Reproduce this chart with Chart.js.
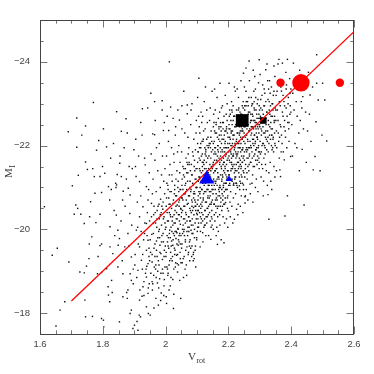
<!DOCTYPE html>
<html>
<head>
<meta charset="utf-8">
<script src="https://cdn.jsdelivr.net/npm/chart.js@4.4.1/dist/chart.umd.min.js"></script>
<style>
  html, body { margin: 0; padding: 0; background: #fff; }
  canvas { display: block; }
</style>
</head>
<body>
<canvas id="tf" width="374" height="374"></canvas>
<script>
// field galaxies: [log Vrot, M_I] (outer cloud)
const galaxies = [
  [1.614,-20.54],[1.639,-19.38],[1.651,-17.69],
  [1.655,-19.55],[1.664,-18.07],[1.679,-18.27],[1.690,-22.33],[1.692,-19.22],
  [1.703,-21.04],[1.709,-20.36],[1.714,-20.58],[1.717,-22.66],[1.717,-21.96],[1.720,-20.50],[1.722,-21.29],[1.727,-18.98],
  [1.730,-20.36],[1.733,-22.25],[1.741,-20.14],[1.741,-18.96],[1.743,-18.31],[1.745,-22.47],[1.745,-21.61],[1.745,-17.91],[1.748,-19.12],
  [1.751,-21.43],[1.756,-19.30],[1.757,-19.65],[1.761,-20.66],[1.765,-19.82],[1.767,-17.92],[1.768,-21.45],[1.770,-23.03],
  [1.773,-21.26],[1.775,-20.86],[1.778,-20.16],[1.780,-21.89],[1.783,-18.94],[1.787,-22.12],[1.791,-21.26],[1.791,-20.36],
  [1.791,-19.61],[1.796,-20.88],[1.796,-19.65],[1.796,-18.97],[1.796,-17.87],[1.799,-21.50],[1.758,-20.30],[1.785,-19.35],
  [1.802,-22.40],[1.802,-17.83],[1.803,-17.67],[1.806,-21.34],[1.812,-21.97],[1.812,-19.06],[1.817,-18.63],[1.818,-21.02],
  [1.818,-18.43],[1.822,-20.70],[1.822,-18.27],[1.823,-20.06],[1.823,-19.58],[1.825,-21.70],[1.828,-18.78],[1.830,-18.49],
  [1.832,-19.42],[1.836,-20.45],[1.841,-21.10],[1.842,-21.00],[1.843,-20.34],[1.844,-22.81],[1.844,-21.06],[1.846,-21.31],
  [1.848,-19.98],[1.848,-19.10],[1.849,-19.62],[1.838,-19.85],[1.827,-20.95],[1.834,-22.05],
  [1.853,-19.78],[1.853,-17.79],[1.854,-21.58],[1.855,-21.75],[1.859,-22.34],[1.859,-21.26],[1.863,-20.70],[1.864,-18.94],
  [1.864,-18.39],[1.865,-20.91],[1.871,-20.55],[1.870,-19.58],[1.874,-22.64],[1.876,-18.49],[1.878,-18.35],[1.880,-19.90],
  [1.880,-18.55],[1.881,-20.98],[1.884,-21.50],[1.886,-20.38],[1.887,-20.82],[1.887,-18.94],[1.887,-17.99],[1.891,-19.34],
  [1.891,-18.78],[1.891,-18.07],[1.894,-21.45],[1.897,-18.70],[1.896,-17.63],[1.899,-21.90],[1.858,-20.20],[1.868,-21.95],
  [1.878,-22.30],[1.862,-19.25],[1.883,-19.60],[1.892,-20.10],[1.897,-19.05],[1.875,-21.20],
  [1.901,-17.71],[1.904,-21.50],[1.906,-21.26],[1.907,-19.98],[1.909,-17.80],[1.912,-19.02],[1.912,-17.59],[1.914,-21.75],
  [1.916,-17.95],[1.917,-21.14],[1.917,-20.30],[1.917,-19.58],[1.917,-18.31],[1.920,-17.91],[1.923,-19.26],[1.925,-22.25],
  [1.926,-22.88],[1.928,-20.54],[1.928,-18.63],[1.930,-19.75],[1.933,-21.70],[1.933,-19.90],[1.935,-21.54],[1.936,-18.95],
  [1.939,-21.02],[1.939,-20.14],[1.939,-19.50],[1.939,-18.86],[1.939,-18.15],[1.940,-19.12],[1.942,-20.40],[1.944,-20.70],
  [1.944,-19.74],[1.944,-19.18],[1.944,-18.47],[1.945,-17.99],[1.946,-20.95],[1.947,-19.35],[1.948,-18.70],[1.921,-20.80],
  [1.910,-20.65],[1.903,-19.40],[1.931,-18.42],[1.926,-19.05],[1.949,-20.20],[1.905,-22.15],[1.948,-21.35],[1.921,-22.55],
  [1.943,-22.90],
  [1.951,-17.95],[1.953,-23.25],[1.955,-20.62],[1.956,-19.88],[1.957,-19.22],[1.958,-18.55],[1.959,-22.28],[1.960,-21.20],
  [1.961,-20.15],[1.962,-18.90],[1.963,-19.55],[1.965,-23.05],[1.965,-22.26],[1.966,-21.65],[1.967,-20.40],[1.968,-19.05],
  [1.969,-18.35],[1.970,-20.90],[1.971,-19.72],[1.972,-20.05],[1.973,-19.35],[1.974,-18.72],[1.975,-21.40],[1.976,-20.55],
  [1.977,-18.19],[1.978,-19.95],[1.979,-19.15],[1.980,-22.05],[1.980,-20.25],[1.981,-18.82],[1.982,-19.62],[1.983,-21.00],
  [1.984,-20.72],[1.985,-19.42],[1.986,-18.48],[1.987,-20.10],[1.988,-19.85],[1.989,-23.07],[1.989,-22.85],[1.990,-21.75],
  [1.990,-19.28],[1.991,-20.48],[1.992,-18.95],[1.993,-22.36],[1.993,-19.70],[1.994,-21.15],[1.995,-20.30],[1.995,-18.65],
  [1.996,-19.50],[1.997,-20.85],[1.998,-19.10],[1.998,-21.45],[1.999,-20.00],[1.952,-19.45],[1.954,-21.80],[1.958,-20.85],
  [1.963,-18.12],[1.967,-22.60],[1.971,-21.95],[1.975,-19.00],[1.979,-20.60],[1.984,-18.30],[1.987,-21.30],[1.992,-20.65],
  [1.996,-22.55],[1.957,-18.75],[1.962,-20.35],[1.966,-19.35],[1.973,-20.25],[1.981,-19.80],[1.986,-20.40],[1.994,-18.42],
  [2.001,-19.35],[2.002,-20.55],[2.002,-18.39],[2.003,-18.23],[2.004,-21.10],[2.005,-19.85],[2.006,-20.20],[2.007,-18.90],
  [2.008,-19.60],[2.009,-22.10],[2.010,-22.36],[2.010,-20.75],[2.011,-19.15],[2.012,-24.00],[2.012,-20.40],[2.013,-19.98],
  [2.014,-21.55],[2.015,-18.65],[2.016,-22.92],[2.016,-19.45],[2.017,-20.05],[2.018,-20.90],[2.019,-19.72],[2.020,-21.30],
  [2.021,-19.25],[2.022,-20.30],[2.023,-18.80],[2.024,-20.62],[2.025,-18.11],[2.025,-19.90],[2.026,-21.80],[2.027,-20.15],
  [2.028,-19.55],[2.029,-21.05],[2.030,-20.45],[2.031,-19.10],[2.032,-22.45],[2.032,-20.80],[2.033,-19.78],[2.034,-20.25],
  [2.035,-19.38],[2.036,-21.40],[2.037,-20.58],[2.038,-18.98],[2.039,-20.02],[2.040,-21.15],[2.040,-19.62],[2.041,-20.35],
  [2.042,-22.00],[2.043,-19.85],[2.044,-22.61],[2.044,-20.70],[2.045,-18.78],[2.046,-19.45],[2.046,-21.60],[2.047,-20.12],
  [2.048,-20.95],[2.049,-19.20],[2.049,-20.48],[2.003,-21.75],[2.006,-19.05],[2.008,-20.95],[2.011,-18.55],[2.014,-20.60],
  [2.017,-19.30],[2.019,-21.95],[2.021,-20.20],[2.023,-19.62],[2.026,-18.45],[2.028,-20.85],[2.030,-19.95],[2.033,-21.20],
  [2.035,-20.40],[2.037,-19.18],[2.039,-22.85],[2.041,-19.75],[2.043,-20.55],[2.045,-21.35],[2.047,-19.65],[2.048,-18.35],
  [2.005,-22.70],[2.027,-21.60],[2.012,-21.30],[2.038,-21.85],[2.031,-22.25],[2.024,-22.65],[2.009,-19.80],[2.042,-20.90],
  [2.036,-19.92],[2.015,-20.35],[2.029,-19.40],[2.044,-20.20],
  [2.050,-20.30],[2.051,-19.55],[2.052,-22.95],[2.052,-21.05],[2.053,-20.75],[2.054,-19.90],[2.055,-21.50],[2.056,-20.10],
  [2.057,-18.85],[2.058,-20.55],[2.059,-19.35],[2.060,-21.25],[2.061,-22.30],[2.062,-20.85],[2.063,-19.70],[2.064,-20.40],
  [2.065,-21.70],[2.066,-19.15],[2.067,-20.95],[2.068,-20.20],[2.069,-22.97],[2.069,-22.76],[2.070,-19.85],[2.071,-21.35],
  [2.072,-20.62],[2.073,-19.45],[2.074,-21.95],[2.075,-20.05],[2.076,-20.80],[2.077,-19.25],[2.078,-21.15],[2.079,-20.45],
  [2.080,-22.50],[2.081,-19.98],[2.082,-21.55],[2.083,-20.70],[2.084,-23.00],[2.084,-19.60],[2.085,-20.25],[2.086,-21.85],
  [2.087,-21.05],[2.088,-19.40],[2.089,-20.52],[2.090,-22.15],[2.091,-20.90],[2.092,-19.80],[2.093,-21.40],[2.094,-20.15],
  [2.095,-20.65],[2.096,-19.10],[2.097,-21.20],[2.098,-22.60],[2.099,-20.38],[2.051,-21.85],[2.053,-19.20],[2.055,-20.95],
  [2.057,-21.30],[2.059,-20.00],[2.062,-19.05],[2.064,-21.10],[2.066,-20.70],[2.068,-19.58],[2.071,-22.20],[2.073,-20.30],
  [2.075,-21.60],[2.078,-19.75],[2.080,-20.90],[2.082,-20.10],[2.085,-21.30],[2.087,-19.90],[2.089,-20.75],[2.092,-21.65],
  [2.094,-19.50],[2.096,-20.55],[2.098,-21.00],[2.052,-22.40],[2.058,-23.30],[2.063,-21.45],[2.067,-18.90],[2.072,-21.80],
  [2.076,-19.60],[2.081,-22.85],[2.086,-20.45],[2.091,-19.30],[2.095,-21.90],[2.099,-19.75],[2.054,-20.45],[2.061,-20.25],
  [2.070,-21.55],[2.077,-20.20],[2.083,-19.35],[2.088,-21.75],[2.093,-20.85],[2.097,-22.30],
  [2.100,-21.45],[2.101,-20.60],[2.102,-22.05],[2.103,-20.25],[2.104,-21.15],[2.105,-22.70],[2.106,-23.61],[2.106,-20.90],
  [2.107,-21.70],[2.108,-20.40],[2.109,-22.30],[2.110,-19.58],[2.110,-21.00],[2.111,-20.75],[2.112,-21.95],[2.113,-20.15],
  [2.114,-21.35],[2.115,-22.55],[2.116,-20.55],[2.117,-21.80],[2.118,-19.92],[2.118,-21.10],[2.119,-20.35],[2.120,-22.15],
  [2.121,-20.85],[2.122,-21.55],[2.123,-23.05],[2.124,-20.10],[2.125,-21.25],[2.126,-22.40],[2.127,-20.65],[2.128,-21.90],
  [2.129,-20.30],[2.130,-21.60],[2.131,-22.85],[2.132,-20.95],[2.133,-21.40],[2.134,-20.50],[2.135,-22.20],[2.136,-21.05],
  [2.137,-19.85],[2.138,-21.75],[2.139,-20.75],[2.140,-22.60],[2.141,-21.30],[2.142,-20.20],[2.143,-21.95],[2.144,-19.76],
  [2.144,-20.90],[2.145,-22.35],[2.146,-21.50],[2.147,-20.45],[2.148,-23.30],[2.149,-21.15],[2.101,-19.95],[2.103,-21.85],
  [2.105,-20.05],[2.107,-22.45],[2.109,-21.25],[2.111,-20.30],[2.113,-22.80],[2.115,-20.95],[2.117,-21.60],[2.119,-19.70],
  [2.121,-22.35],[2.123,-21.05],[2.125,-20.45],[2.127,-23.40],[2.129,-21.75],[2.131,-20.15],[2.133,-22.55],[2.135,-20.80],
  [2.137,-21.45],[2.139,-22.05],[2.141,-20.60],[2.143,-21.20],[2.145,-20.05],[2.147,-22.10],[2.149,-20.70],[2.102,-23.15],
  [2.104,-20.80],[2.108,-21.45],[2.112,-20.50],[2.116,-22.10],[2.120,-20.70],[2.124,-21.45],[2.128,-20.90],[2.132,-22.00],
  [2.136,-20.35],[2.140,-21.15],[2.144,-21.70],[2.148,-20.25],[2.103,-20.45],[2.110,-21.65],[2.118,-22.70],[2.126,-21.80],
  [2.142,-22.90],[2.146,-20.65],
  [2.150,-21.90],[2.151,-20.95],[2.152,-22.45],[2.153,-21.35],[2.154,-20.60],[2.155,-22.10],[2.156,-21.65],[2.157,-20.20],
  [2.158,-22.85],[2.159,-21.10],[2.160,-21.80],[2.161,-20.85],[2.162,-22.30],[2.163,-21.45],[2.164,-23.15],[2.165,-19.64],
  [2.165,-20.50],[2.166,-22.00],[2.167,-21.25],[2.168,-22.65],[2.169,-20.95],[2.170,-21.70],[2.171,-22.25],[2.172,-20.35],
  [2.173,-23.49],[2.173,-21.05],[2.174,-21.95],[2.175,-22.55],[2.176,-20.75],[2.177,-21.50],[2.178,-22.90],[2.179,-21.20],
  [2.180,-22.15],[2.181,-20.55],[2.182,-21.85],[2.183,-22.40],[2.184,-21.00],[2.185,-21.60],[2.186,-19.68],[2.186,-22.70],
  [2.187,-20.90],[2.188,-21.35],[2.189,-22.05],[2.190,-23.20],[2.191,-20.64],[2.191,-21.75],[2.192,-22.35],[2.193,-21.10],
  [2.194,-20.25],[2.195,-21.95],[2.196,-22.60],[2.197,-21.40],[2.198,-20.80],[2.199,-22.20],[2.151,-21.55],[2.153,-22.75],
  [2.155,-20.35],[2.157,-21.95],[2.159,-20.70],[2.161,-22.55],[2.163,-20.05],[2.165,-21.75],[2.167,-20.80],[2.169,-22.15],
  [2.171,-21.00],[2.173,-20.10],[2.175,-21.30],[2.177,-22.35],[2.179,-20.45],[2.181,-22.95],[2.183,-21.55],[2.185,-20.60],
  [2.187,-22.25],[2.189,-21.50],[2.191,-20.95],[2.193,-22.75],[2.195,-21.20],[2.197,-20.50],[2.199,-21.70],[2.152,-20.00],
  [2.156,-23.35],[2.160,-20.40],[2.164,-21.20],[2.168,-19.95],[2.172,-22.80],[2.176,-21.85],[2.180,-20.85],[2.184,-22.55],
  [2.188,-20.15],[2.192,-21.30],[2.196,-23.00],[2.154,-21.15],[2.158,-21.40],[2.162,-21.60],[2.166,-20.30],[2.170,-22.45],
  [2.174,-20.55],[2.178,-21.65],[2.182,-21.25],[2.186,-21.95],[2.190,-20.75],[2.194,-22.40],[2.198,-20.05],[2.161,-19.85],
  [2.177,-19.75],[2.183,-20.30],
  [2.200,-20.44],[2.201,-21.85],[2.202,-23.49],[2.202,-22.40],[2.203,-21.30],[2.204,-22.85],[2.205,-21.60],[2.206,-22.15],
  [2.207,-20.90],[2.208,-22.60],[2.209,-21.45],[2.210,-23.05],[2.211,-22.00],[2.212,-21.15],[2.213,-22.35],[2.214,-21.75],
  [2.215,-22.95],[2.216,-20.75],[2.217,-22.25],[2.218,-21.55],[2.219,-20.24],[2.219,-22.70],[2.220,-21.95],[2.221,-21.25],
  [2.222,-23.30],[2.223,-22.50],[2.224,-21.70],[2.225,-22.10],[2.226,-20.48],[2.226,-22.85],[2.227,-21.40],[2.228,-22.30],
  [2.229,-21.00],[2.230,-22.65],[2.231,-21.85],[2.232,-23.15],[2.233,-22.05],[2.234,-21.50],[2.235,-22.45],[2.236,-20.95],
  [2.237,-22.80],[2.238,-21.65],[2.239,-22.20],[2.240,-23.55],[2.241,-21.30],[2.242,-22.55],[2.243,-21.90],[2.244,-22.95],
  [2.245,-21.10],[2.246,-22.35],[2.247,-21.70],[2.248,-23.73],[2.249,-22.10],[2.201,-21.05],[2.203,-22.70],[2.205,-20.65],
  [2.207,-21.90],[2.209,-22.30],[2.211,-20.55],[2.213,-21.45],[2.215,-22.15],[2.217,-21.05],[2.219,-23.40],[2.221,-22.05],
  [2.223,-20.85],[2.225,-21.55],[2.227,-22.60],[2.229,-21.80],[2.231,-20.60],[2.233,-22.90],[2.235,-21.25],[2.237,-21.95],
  [2.239,-22.75],[2.241,-20.80],[2.243,-22.35],[2.245,-21.60],[2.247,-23.05],[2.249,-21.35],[2.204,-22.05],[2.208,-21.20],
  [2.212,-22.80],[2.216,-21.80],[2.220,-22.45],[2.224,-21.10],[2.228,-23.35],[2.232,-21.60],[2.236,-22.30],[2.240,-21.45],
  [2.244,-22.15],[2.248,-20.95],[2.206,-20.30],[2.214,-20.15],[2.230,-20.35],[2.238,-20.55],[2.246,-20.40],[2.210,-21.70],
  [2.222,-21.40],[2.234,-22.70],[2.242,-21.75],[2.216,-21.06],[2.226,-21.10],[2.235,-21.04],
  [2.250,-22.45],[2.251,-21.85],[2.252,-22.95],[2.253,-20.63],[2.254,-20.80],[2.254,-22.20],[2.255,-21.55],[2.256,-23.30],
  [2.257,-22.65],[2.258,-21.95],[2.259,-22.40],[2.260,-21.20],[2.261,-23.05],[2.262,-22.10],[2.263,-21.70],[2.264,-22.80],
  [2.265,-21.40],[2.266,-22.35],[2.267,-23.55],[2.268,-21.95],[2.269,-21.08],[2.270,-22.55],[2.271,-22.00],[2.272,-21.60],
  [2.273,-23.15],[2.274,-22.30],[2.275,-21.85],[2.276,-22.75],[2.277,-21.30],[2.278,-22.45],[2.279,-23.80],[2.280,-22.15],
  [2.281,-21.75],[2.282,-22.90],[2.283,-21.50],[2.284,-22.60],[2.285,-22.05],[2.286,-23.35],[2.287,-21.90],[2.288,-22.40],
  [2.289,-21.20],[2.290,-22.75],[2.291,-22.20],[2.292,-23.00],[2.293,-21.65],[2.294,-22.50],[2.295,-21.95],[2.296,-23.50],
  [2.297,-22.30],[2.298,-21.45],[2.299,-22.85],[2.251,-23.40],[2.255,-22.55],[2.259,-21.35],[2.263,-22.95],[2.267,-21.75],
  [2.271,-22.75],[2.275,-21.10],[2.279,-22.60],[2.283,-22.25],[2.287,-23.15],[2.291,-21.55],[2.295,-22.65],[2.299,-21.85],
  [2.252,-21.25],[2.257,-20.95],[2.262,-20.70],[2.270,-20.85],[2.278,-20.65],[2.286,-21.00],[2.294,-20.90],[2.256,-23.85],
  [2.266,-24.02],[2.284,-23.65],[2.298,-24.05],[2.273,-22.45],[2.281,-23.30],[2.289,-22.55],[2.297,-21.70],[2.261,-21.90],
  [2.277,-23.00],[2.293,-22.15],[2.248,-21.06],[2.253,-20.78],
  [2.300,-22.45],[2.302,-21.80],[2.303,-23.10],[2.305,-22.25],[2.306,-21.55],[2.308,-22.85],[2.309,-23.45],[2.311,-20.80],
  [2.311,-22.05],[2.313,-21.70],[2.314,-22.60],[2.316,-23.25],[2.317,-21.95],[2.319,-23.81],[2.319,-22.35],[2.321,-21.40],
  [2.322,-22.80],[2.324,-22.10],[2.325,-23.55],[2.326,-20.83],[2.327,-21.85],[2.328,-22.50],[2.329,-20.24],[2.330,-23.05],
  [2.331,-22.25],[2.333,-21.60],[2.334,-22.95],[2.336,-22.40],[2.337,-23.40],[2.339,-21.90],[2.340,-22.70],[2.342,-22.15],
  [2.343,-23.20],[2.345,-21.50],[2.346,-22.55],[2.348,-23.65],[2.349,-22.00],[2.301,-23.70],[2.304,-21.25],[2.307,-22.00],
  [2.310,-22.45],[2.312,-21.15],[2.315,-22.95],[2.318,-21.55],[2.320,-22.65],[2.323,-23.95],[2.326,-22.20],[2.329,-21.35],
  [2.332,-22.75],[2.335,-21.15],[2.338,-22.25],[2.341,-23.00],[2.344,-21.85],[2.347,-22.30],[2.302,-22.70],[2.309,-21.45],
  [2.316,-22.30],[2.324,-21.05],[2.331,-23.55],[2.338,-20.95],[2.345,-23.90],[2.348,-21.25],
  [2.351,-22.60],[2.352,-23.20],[2.354,-21.95],[2.356,-22.85],[2.357,-23.55],[2.359,-22.30],[2.361,-24.06],[2.362,-21.70],
  [2.364,-21.42],[2.365,-22.95],[2.366,-21.26],[2.367,-22.45],[2.369,-23.30],[2.371,-22.05],[2.372,-23.97],[2.374,-22.70],
  [2.375,-21.85],[2.377,-23.05],[2.378,-21.66],[2.380,-20.32],[2.381,-22.35],[2.383,-23.75],[2.384,-22.90],[2.386,-21.95],
  [2.388,-24.06],[2.388,-20.80],[2.389,-22.55],[2.391,-23.15],[2.393,-22.10],[2.395,-23.60],[2.396,-22.75],[2.398,-21.74],
  [2.399,-23.35],[2.353,-21.40],[2.358,-23.95],[2.363,-22.20],[2.368,-21.85],[2.379,-22.60],[2.385,-23.45],[2.392,-22.40],
  [2.397,-22.95],
  [2.402,-22.50],[2.405,-23.25],[2.407,-23.97],[2.409,-22.85],[2.412,-22.05],[2.414,-23.60],[2.418,-21.95],[2.419,-22.70],
  [2.421,-23.35],[2.424,-22.30],[2.427,-23.80],[2.429,-22.60],[2.432,-23.05],[2.435,-21.91],[2.437,-23.17],[2.439,-22.40],
  [2.441,-20.58],[2.443,-23.65],[2.446,-22.80],[2.448,-21.60],[2.404,-21.75],[2.416,-23.05],[2.426,-21.40],[2.434,-22.90],
  [2.452,-22.35],[2.455,-23.75],[2.460,-23.21],[2.463,-22.10],[2.468,-23.40],[2.470,-21.42],[2.476,-21.74],[2.479,-22.57],
  [2.481,-24.17],[2.481,-23.49],[2.486,-23.09],[2.492,-21.40],[2.498,-22.25],[2.458,-22.75],
  [2.500,-23.49],[2.507,-23.09],[2.513,-22.11]
];

// field galaxies in the dense ridge of the cloud
const galaxiesCore = [
  [1.902,-19.15],[1.908,-18.85],[1.913,-19.65],[1.918,-18.55],[1.922,-19.95],[1.927,-19.40],[1.931,-18.75],[1.934,-20.15],
  [1.938,-19.05],[1.941,-19.85],[1.945,-18.60],[1.947,-19.55],[1.911,-20.05],[1.925,-18.40],[1.949,-19.25],
  [1.951,-19.75],[1.953,-18.95],[1.955,-20.30],[1.957,-19.40],[1.959,-18.70],[1.961,-19.90],[1.963,-20.55],[1.964,-19.10],
  [1.966,-19.65],[1.968,-20.15],[1.970,-18.85],[1.971,-19.50],[1.973,-20.45],[1.975,-19.80],[1.977,-19.25],[1.978,-18.60],
  [1.980,-20.00],[1.982,-19.45],[1.983,-20.35],[1.985,-18.95],[1.987,-19.70],[1.988,-20.55],[1.990,-19.05],[1.992,-19.90],
  [1.993,-20.25],[1.995,-19.35],[1.996,-18.80],[1.998,-20.15],[1.999,-19.60],[1.969,-19.15],
  [2.001,-20.05],[2.002,-19.45],[2.003,-20.75],[2.004,-19.10],[2.005,-20.40],[2.006,-19.70],[2.007,-21.05],[2.008,-18.95],
  [2.009,-20.20],[2.010,-19.55],[2.011,-20.60],[2.012,-19.90],[2.013,-19.25],[2.014,-20.90],[2.015,-19.80],[2.016,-20.30],
  [2.017,-18.85],[2.018,-19.60],[2.019,-20.50],[2.020,-19.95],[2.021,-21.15],[2.022,-19.35],[2.023,-20.10],[2.024,-19.75],
  [2.025,-20.70],[2.026,-19.05],[2.027,-20.35],[2.028,-19.85],[2.029,-20.95],[2.030,-19.50],[2.031,-20.15],[2.032,-19.20],
  [2.033,-20.55],[2.034,-19.95],[2.035,-20.80],[2.036,-19.65],[2.037,-20.25],[2.038,-19.40],[2.039,-21.00],[2.040,-20.00],
  [2.041,-19.15],[2.042,-20.65],[2.043,-19.70],[2.044,-20.35],[2.045,-19.90],[2.046,-20.95],[2.047,-19.30],[2.048,-20.50],
  [2.049,-19.85],[2.050,-20.75],
  [2.051,-20.40],[2.052,-19.65],[2.053,-21.20],[2.054,-20.00],[2.055,-20.70],[2.056,-19.30],[2.057,-20.25],[2.058,-21.45],
  [2.059,-20.85],[2.060,-19.85],[2.061,-20.55],[2.062,-21.05],[2.063,-20.15],[2.064,-19.50],[2.065,-20.90],[2.066,-20.35],
  [2.067,-21.35],[2.068,-19.95],[2.069,-20.60],[2.070,-21.15],[2.071,-20.05],[2.072,-19.40],[2.073,-20.80],[2.074,-20.30],
  [2.075,-21.55],[2.076,-19.70],[2.077,-20.50],[2.078,-21.00],[2.079,-20.20],[2.080,-19.55],[2.081,-20.95],[2.082,-20.40],
  [2.083,-21.30],[2.084,-19.90],[2.085,-20.65],[2.086,-21.10],[2.087,-20.10],[2.088,-19.25],[2.089,-20.85],[2.090,-20.35],
  [2.091,-21.50],[2.092,-20.00],[2.093,-20.70],[2.094,-21.20],[2.095,-19.60],[2.096,-20.45],[2.097,-21.00],[2.098,-20.25],
  [2.099,-19.80],[2.063,-19.75],[2.068,-21.60],[2.074,-19.95],[2.079,-21.40],[2.084,-20.55],[2.089,-19.45],[2.094,-20.55],
  [2.097,-21.45],[2.058,-19.95],
  [2.100,-21.00],[2.101,-20.35],[2.102,-21.60],[2.103,-20.70],[2.104,-21.85],[2.105,-20.15],[2.106,-21.25],[2.107,-20.55],
  [2.108,-21.95],[2.109,-20.85],[2.110,-21.40],[2.111,-19.95],[2.112,-20.60],[2.113,-21.15],[2.114,-21.75],[2.115,-20.40],
  [2.116,-20.95],[2.117,-21.50],[2.118,-20.20],[2.119,-22.10],[2.120,-20.75],[2.121,-21.30],[2.122,-20.05],[2.123,-21.65],
  [2.124,-20.90],[2.125,-21.95],[2.126,-20.45],[2.127,-21.10],[2.128,-19.85],[2.129,-21.45],[2.130,-20.65],[2.131,-22.15],
  [2.132,-21.25],[2.133,-20.30],[2.134,-21.70],[2.135,-20.95],[2.136,-21.35],[2.137,-20.55],[2.138,-22.00],[2.139,-21.05],
  [2.140,-20.40],[2.141,-21.55],[2.142,-20.80],[2.143,-21.25],[2.144,-22.20],[2.145,-20.60],[2.146,-21.85],[2.147,-21.05],
  [2.148,-20.10],[2.149,-21.45],[2.104,-20.45],[2.108,-21.20],[2.112,-22.05],[2.116,-20.65],[2.120,-21.60],[2.124,-20.25],
  [2.128,-21.85],[2.132,-20.50],[2.136,-21.95],[2.140,-20.90],[2.144,-21.40],[2.148,-20.95],[2.102,-20.05],[2.110,-20.90],
  [2.118,-21.40],[2.126,-20.10],[2.134,-20.75],[2.142,-22.05],[2.146,-20.30],[2.114,-20.25],
  [2.150,-21.50],[2.151,-20.85],[2.152,-22.05],[2.153,-21.20],[2.154,-21.80],[2.155,-20.60],[2.156,-22.35],[2.157,-21.40],
  [2.158,-20.95],[2.159,-21.95],[2.160,-21.15],[2.161,-22.50],[2.162,-20.75],[2.163,-21.65],[2.164,-21.05],[2.165,-22.20],
  [2.166,-21.35],[2.167,-20.55],[2.168,-21.85],[2.169,-21.25],[2.170,-22.40],[2.171,-20.90],[2.172,-21.55],[2.173,-22.10],
  [2.174,-21.00],[2.175,-21.75],[2.176,-20.65],[2.177,-22.25],[2.178,-21.45],[2.179,-20.95],[2.180,-21.90],[2.181,-21.30],
  [2.182,-22.55],[2.183,-20.80],[2.184,-21.70],[2.185,-22.15],[2.186,-21.10],[2.187,-21.60],[2.188,-20.60],[2.189,-22.35],
  [2.190,-21.45],[2.191,-21.95],[2.192,-20.95],[2.193,-21.80],[2.194,-22.45],[2.195,-21.25],[2.196,-21.65],[2.197,-20.75],
  [2.198,-22.05],[2.199,-21.40],[2.152,-21.60],[2.155,-21.05],[2.158,-22.30],[2.161,-21.45],[2.164,-20.70],[2.167,-22.00],
  [2.170,-21.20],[2.173,-21.60],[2.176,-22.45],[2.179,-21.15],[2.182,-20.70],[2.185,-21.40],[2.188,-21.85],[2.191,-21.10],
  [2.194,-21.55],[2.197,-22.30],[2.154,-22.55],[2.160,-20.55],[2.166,-21.90],[2.172,-20.80],[2.178,-22.05],[2.184,-21.05],
  [2.190,-22.10],[2.196,-20.95],[2.157,-21.85],
  [2.200,-21.95],[2.201,-21.30],[2.202,-22.50],[2.203,-21.65],[2.204,-22.20],[2.205,-21.05],[2.206,-22.75],[2.207,-21.85],
  [2.208,-21.40],[2.209,-22.35],[2.210,-21.60],[2.211,-22.85],[2.212,-21.20],[2.213,-22.05],[2.214,-21.50],[2.215,-22.60],
  [2.216,-21.75],[2.217,-21.10],[2.218,-22.25],[2.219,-21.90],[2.220,-22.70],[2.221,-21.45],[2.222,-22.00],[2.223,-21.25],
  [2.224,-22.45],[2.225,-21.80],[2.226,-22.15],[2.227,-21.05],[2.228,-22.55],[2.229,-21.60],[2.230,-22.30],[2.231,-21.95],
  [2.232,-22.85],[2.233,-21.35],[2.234,-22.10],[2.235,-21.70],[2.236,-22.60],[2.237,-21.15],[2.238,-22.35],[2.239,-21.85],
  [2.240,-22.05],[2.241,-21.50],[2.242,-22.75],[2.243,-21.25],[2.244,-22.40],[2.245,-21.90],[2.246,-22.20],[2.247,-21.40],
  [2.248,-22.65],[2.249,-21.75],[2.202,-21.75],[2.205,-22.40],[2.208,-22.00],[2.211,-21.55],[2.214,-22.25],[2.217,-22.70],
  [2.220,-21.20],[2.223,-21.85],[2.226,-22.50],[2.229,-22.05],[2.232,-21.45],[2.235,-22.25],[2.238,-21.55],[2.241,-22.45],
  [2.244,-21.60],[2.247,-22.90],[2.204,-21.10],[2.212,-22.50],[2.219,-21.35],[2.227,-21.75],[2.233,-22.60],[2.239,-21.10],
  [2.246,-21.95],[2.209,-21.80],[2.236,-21.95],
  [2.250,-22.30],[2.251,-21.65],[2.252,-22.85],[2.253,-22.05],[2.254,-21.45],[2.255,-22.60],[2.256,-21.90],[2.257,-23.05],
  [2.258,-22.25],[2.259,-21.70],[2.260,-22.70],[2.261,-22.15],[2.262,-21.50],[2.263,-22.50],[2.264,-21.95],[2.265,-23.15],
  [2.266,-22.35],[2.267,-21.80],[2.268,-22.80],[2.269,-22.10],[2.270,-21.60],[2.271,-22.60],[2.272,-22.25],[2.273,-21.95],
  [2.274,-22.95],[2.275,-22.45],[2.276,-21.70],[2.277,-22.15],[2.278,-22.70],[2.279,-21.50],[2.280,-22.40],[2.281,-22.00],
  [2.282,-23.05],[2.283,-22.25],[2.284,-21.80],[2.285,-22.55],[2.286,-22.10],[2.287,-21.65],[2.288,-22.85],[2.289,-22.30],
  [2.290,-21.95],[2.291,-22.65],[2.292,-22.20],[2.293,-21.75],[2.294,-23.10],[2.295,-22.40],[2.296,-22.00],[2.297,-22.75],
  [2.298,-21.60],[2.299,-22.50],[2.253,-22.45],[2.258,-21.85],[2.263,-22.75],[2.268,-22.40],[2.273,-22.60],[2.278,-22.05],
  [2.283,-22.85],[2.288,-21.90],[2.293,-22.45],[2.298,-22.95],[2.256,-22.95],[2.266,-21.55],[2.276,-23.00],[2.286,-22.45],
  [2.296,-21.85],
  [2.300,-22.65],[2.301,-22.10],[2.303,-22.90],[2.304,-22.40],[2.305,-21.85],[2.307,-23.20],[2.308,-22.55],[2.309,-22.05],
  [2.311,-22.75],[2.312,-22.30],[2.314,-23.35],[2.315,-22.00],[2.316,-22.65],[2.318,-22.20],[2.319,-23.05],[2.320,-22.50],
  [2.322,-21.90],[2.323,-22.80],[2.325,-22.35],[2.326,-23.10],[2.327,-22.60],[2.329,-22.05],[2.330,-22.85],[2.332,-22.45],
  [2.333,-23.25],[2.334,-22.15],[2.336,-22.70],[2.337,-22.00],[2.339,-23.00],[2.340,-22.40],[2.342,-22.85],[2.343,-22.20],
  [2.345,-23.30],[2.346,-22.60],[2.348,-22.05],[2.349,-22.90],[2.306,-22.35],[2.313,-22.95],[2.321,-22.15],[2.328,-23.35],
  [2.335,-22.55],[2.341,-21.95],[2.347,-22.70],[2.317,-21.80],[2.338,-22.25],
  [2.351,-22.85],[2.353,-22.35],[2.355,-23.30],[2.358,-22.60],[2.360,-22.10],[2.362,-23.05],[2.365,-22.50],[2.367,-23.40],
  [2.369,-22.25],[2.372,-22.80],[2.374,-23.20],[2.377,-22.45],[2.379,-22.95],[2.382,-22.20],[2.384,-23.35],[2.387,-22.70],
  [2.390,-23.00],[2.393,-22.55],[2.396,-23.25],[2.399,-22.80]
];

// fitted relation, end points
const fitX = [1.70, 2.60];
const fitY = [-18.29, -24.72];

// highlighted objects
const circleX = [2.366, 2.431, 2.555];
const circleY = [-23.50, -23.50, -23.50];
const squareX = [2.244, 2.311];
const squareY = [-22.60, -22.60];
const triX = [2.131, 2.202];
const triY = [-21.20, -21.20];

const toPts = (xs, ys) => xs.map((v, i) => ({x: v, y: ys[i]}));
const near = (v, step) => Math.abs(v / step - Math.round(v / step)) < 1e-6;

const frameTicks = {
    id: 'frameTicks',
    afterDraw(chart) {
        const {ctx, chartArea: a, scales} = chart;
        const xs = scales.x, ys = scales.y;
        ctx.save();
        ctx.strokeStyle = '#777';
        ctx.lineWidth = 1;
        ctx.beginPath();
        xs.ticks.forEach(t => {
            const px = Math.round(xs.getPixelForValue(t.value)) + 0.5;
            const len = near(t.value, 0.2) ? 7.5 : 3.7;
            ctx.moveTo(px, a.bottom); ctx.lineTo(px, a.bottom - len);
            ctx.moveTo(px, a.top); ctx.lineTo(px, a.top + len);
        });
        ys.ticks.forEach(t => {
            const py = Math.round(ys.getPixelForValue(t.value)) + 0.5;
            const len = near(t.value, 2) ? 7.5 : 3.7;
            ctx.moveTo(a.left, py); ctx.lineTo(a.left + len, py);
            ctx.moveTo(a.right, py); ctx.lineTo(a.right - len, py);
        });
        ctx.stroke();
        ctx.strokeStyle = '#444';
        ctx.strokeRect(a.left + 0.5, a.top + 0.5, a.width - 1, a.height);

        // axis titles with subscripts
        ctx.fillStyle = '#333';
        ctx.textBaseline = 'alphabetic';
        ctx.textAlign = 'left';
        ctx.font = '11px "Liberation Serif"';
        ctx.fillText('V', 188, 360);
        const vw = ctx.measureText('V').width;
        ctx.font = '8px "Liberation Serif"';
        ctx.fillText('rot', 188 + vw + 0.5, 363);

        ctx.translate(12, 178);
        ctx.rotate(-Math.PI / 2);
        ctx.font = '11px "Liberation Serif"';
        ctx.fillText('M', 0, 0);
        const mw = ctx.measureText('M').width;
        ctx.font = '8px "Liberation Serif"';
        ctx.fillText('I', mw + 0.5, 2.5);
        ctx.restore();
    }
};

const dotStyle = {
    pointStyle: 'rect',
    pointRadius: 1.0,
    backgroundColor: '#111',
    borderWidth: 0,
    order: 4
};

new Chart(document.getElementById('tf').getContext('2d'), {
    type: 'scatter',
    data: {
        datasets: [
            {
                data: toPts(triX, triY),
                pointStyle: 'triangle',
                pointRadius: [8.7, 3.9],
                backgroundColor: '#0000ff',
                borderWidth: 0,
                order: 0
            },
            {
                data: toPts(circleX, circleY),
                pointStyle: 'circle',
                pointRadius: [4.2, 8.7, 4.2],
                backgroundColor: '#ff0000',
                borderWidth: 0,
                order: 1
            },
            {
                data: toPts(fitX, fitY),
                showLine: true,
                borderColor: '#ff0000',
                borderWidth: 1.3,
                pointRadius: 0,
                order: 2
            },
            {
                data: toPts(squareX, squareY),
                pointStyle: 'rect',
                pointRadius: [9, 4.7],
                backgroundColor: '#000',
                borderWidth: 0,
                order: 3
            },
            Object.assign({data: galaxies.map(p => ({x: p[0], y: p[1]}))}, dotStyle),
            Object.assign({data: galaxiesCore.map(p => ({x: p[0], y: p[1]}))}, dotStyle)
        ]
    },
    options: {
        responsive: false,
        devicePixelRatio: 1,
        animation: false,
        events: [],
        layout: {
            padding: {top: 20, right: 20, left: 0, bottom: 0}
        },
        plugins: {
            legend: {display: false},
            tooltip: {enabled: false}
        },
        scales: {
            x: {
                type: 'linear',
                min: 1.6,
                max: 2.6,
                grid: {display: false, drawTicks: false},
                border: {display: false},
                afterFit: s => { s.height = 40; },
                ticks: {
                    stepSize: 0.05,
                    autoSkip: false,
                    maxRotation: 0,
                    padding: 5,
                    color: '#444',
                    font: {family: '"Liberation Sans"', size: 9.5},
                    callback: v => near(v, 0.2) ? String(Number(v.toFixed(1))) : ''
                }
            },
            y: {
                type: 'linear',
                min: -25,
                max: -17.5,
                reverse: true,
                grid: {display: false, drawTicks: false},
                border: {display: false},
                afterFit: s => { s.width = 40; },
                ticks: {
                    stepSize: 0.5,
                    autoSkip: false,
                    padding: 10,
                    color: '#444',
                    font: {family: '"Liberation Sans"', size: 9.5},
                    callback: v => near(v, 2) ? '\u2212' + Math.abs(v) : ''
                }
            }
        }
    },
    plugins: [frameTicks]
});
</script>
</body>
</html>
